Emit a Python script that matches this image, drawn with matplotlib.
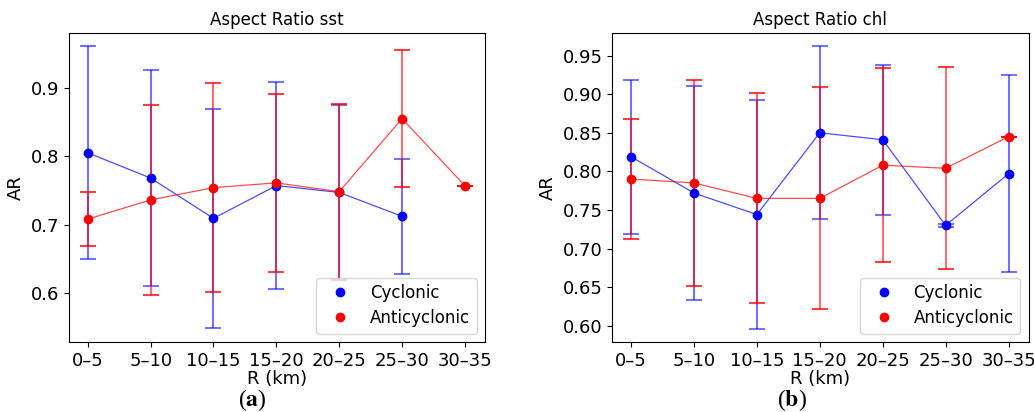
import numpy as np
import matplotlib
matplotlib.use("Agg")
import matplotlib.pyplot as plt
from matplotlib.lines import Line2D

categories = ["0–5", "5–10", "10–15", "15–20", "20–25", "25–30", "30–35"]

# Aspect ratio sst
sst_cyc_mean = [0.805, 0.768, 0.709, 0.757, 0.747, 0.712, np.nan]
sst_cyc_err = [0.156, 0.158, 0.160, 0.152, 0.128, 0.084, np.nan]
sst_anti_mean = [0.708, 0.736, 0.754, 0.761, 0.748, 0.855, 0.757]
sst_anti_err = [0.039, 0.139, 0.153, 0.130, 0.129, 0.100, 0.0]

# Aspect ratio chl
chl_cyc_mean = [0.819, 0.772, 0.744, 0.850, 0.841, 0.730, 0.797]
chl_cyc_err = [0.100, 0.139, 0.148, 0.112, 0.097, 0.002, 0.128]
chl_anti_mean = [0.790, 0.785, 0.765, 0.765, 0.808, 0.804, 0.845]
chl_anti_err = [0.078, 0.134, 0.136, 0.144, 0.126, 0.131, 0.0]

plt.rcParams['mathtext.fontset'] = 'stix'

fig = plt.figure(figsize=(10.34, 4.12), dpi=100)
ax1 = fig.add_axes([0.0667, 0.170, 0.4023, 0.750])
ax2 = fig.add_axes([0.592, 0.170, 0.4029, 0.750])

x = np.arange(len(categories))

def draw(ax, cm, ce, am, ae, title, ylim, yticks):
    styles = [(cm, ce, 'blue', 0.55, 1.5), (am, ae, 'red', 0.75, 1.1)]
    for m, e, c, a, lw in styles:
        m = np.array(m, dtype=float)
        e = np.array(e, dtype=float)
        ax.errorbar(x, m, yerr=e, fmt='none', ecolor=c, alpha=a,
                    elinewidth=lw, capsize=6, capthick=1.5, zorder=2)
        ax.plot(x, m, '-', color=c, lw=0.9, alpha=0.7, zorder=3)
        ax.plot(x, m, 'o', color=c, ms=6, zorder=4)
    ax.set_xticks(x)
    ax.set_xticklabels(categories)
    ax.set_yticks(yticks)
    ax.set_ylim(*ylim)
    ax.set_xlim(-0.30, 6.32)
    ax.tick_params(labelsize=13)
    ax.set_title(title, fontsize=12, pad=6)
    ax.set_xlabel("R (km)", fontsize=13, labelpad=0)
    ax.set_ylabel("AR", fontsize=13)
    handles = [Line2D([], [], ls='none', marker='o', color='blue', ms=6),
               Line2D([], [], ls='none', marker='o', color='red', ms=6)]
    ax.legend(handles, ["Cyclonic", "Anticyclonic"], loc='lower right',
              fontsize=12, borderpad=0.4, labelspacing=0.4)

draw(ax1, sst_cyc_mean, sst_cyc_err, sst_anti_mean, sst_anti_err,
     "Aspect Ratio sst", (0.528, 0.9805), [0.6, 0.7, 0.8, 0.9])
ax1.set_yticklabels(["0.6", "0.7", "0.8", "0.9"])
draw(ax2, chl_cyc_mean, chl_cyc_err, chl_anti_mean, chl_anti_err,
     "Aspect Ratio chl", (0.5789, 0.9794),
     [0.60, 0.65, 0.70, 0.75, 0.80, 0.85, 0.90, 0.95])
ax2.set_yticklabels(["0.60", "0.65", "0.70", "0.75", "0.80", "0.85", "0.90", "0.95"])

fig.text(0.2435, 0.028, r"($\mathbf{a}$)", ha='center', va='center',
         fontsize=17, family='Liberation Serif')
fig.text(0.7655, 0.028, r"($\mathbf{b}$)", ha='center', va='center',
         fontsize=17, family='Liberation Serif')

fig.savefig("out.png", dpi=100)
